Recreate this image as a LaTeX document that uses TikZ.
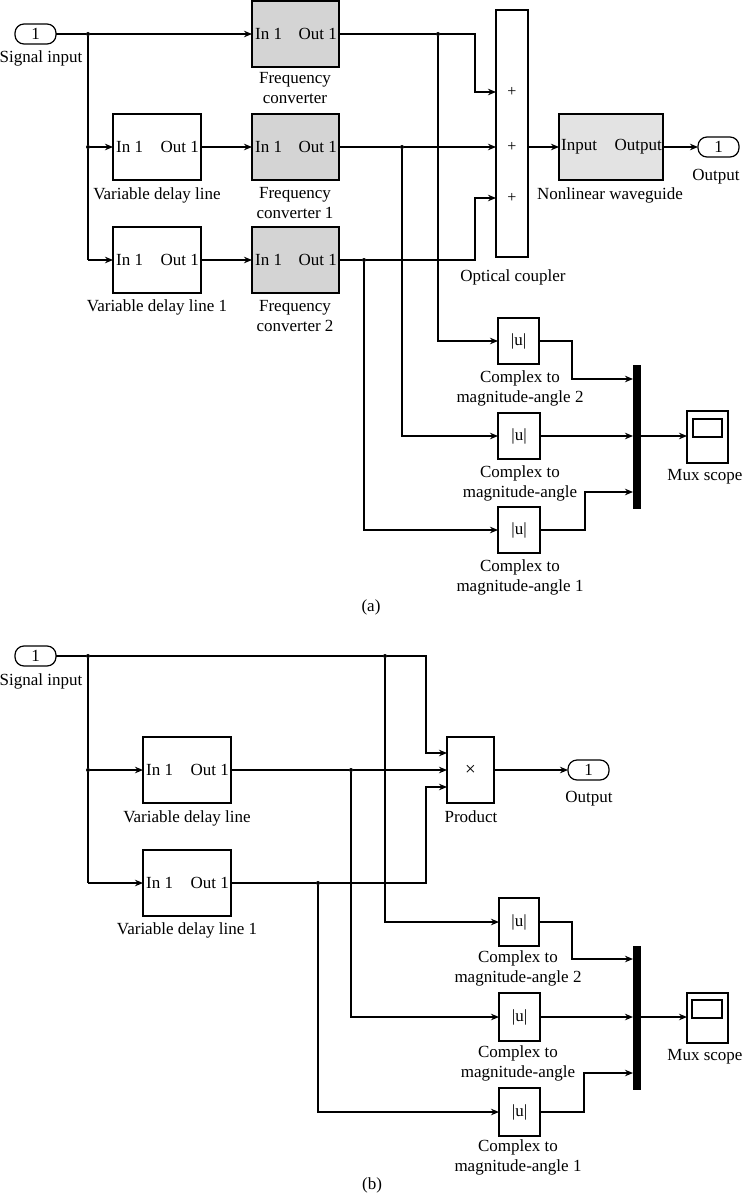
\documentclass[tikz,border=0pt]{standalone}
\usepackage{fontspec}
\setmainfont{Liberation Serif}
\usetikzlibrary{arrows.meta,calc}
\newcommand\mkblk[7]{\node[#6,minimum width={#4-#2},minimum height={#5-#3}] (#1) at ({(#2+#4)/2},{(#3+#5)/2}) {#7};}
\begin{document}
\begin{tikzpicture}[x=1pt,y=-1pt,
  font=\fontsize{17}{20}\selectfont,
  wire/.style={line width=1.2pt},
  arr/.style={wire,-{Stealth[length=8pt,width=6.5pt,inset=2.5pt]}},
  blk/.style={draw,line width=1.2pt,inner sep=0pt,outer sep=0pt},
  gblk/.style={blk,fill=black!17},
  lblk/.style={blk,fill=black!11},
  term/.style={blk,rounded corners=9pt},
  lbl/.style={align=center,inner sep=0pt},
  port/.style={inner sep=0pt},
  jdot/.style={circle,fill=black,inner sep=0pt,minimum size=4pt},
  mux/.style={draw,fill=black,inner sep=0pt,outer sep=0pt},
]
\useasboundingbox (0,0) rectangle (743,1193);

% ================= (a) =================
\mkblk{sinA}{15}{24}{56}{44}{term}{1}
\node[lbl] (sinAl) at (41,58) {Signal input};
\node[jdot] (jA1) at (88,34) {};
\node[jdot] (jA2) at (88,147) {};
\coordinate (cA3) at (88,260);

\mkblk{fc0}{252}{1}{339}{67}{gblk}{}
\mkblk{vdl0}{113}{114}{201}{180}{blk}{}
\mkblk{fc1}{252}{114}{339}{180}{gblk}{}
\mkblk{vdl1}{113}{227}{201}{293}{blk}{}
\mkblk{fc2}{252}{227}{339}{293}{gblk}{}
\foreach \b in {fc0,vdl0,fc1,vdl1,fc2}{
  \node[port,anchor=west] (\b i) at ([xshift=3pt]\b.west) {In 1};
  \node[port,anchor=east] (\b o) at ([xshift=-2pt]\b.east) {Out 1};
}
\node[lbl] (fc0l) at (295,88) {Frequency\\converter};
\node[lbl] (vdl0l) at (157,195) {Variable delay line};
\node[lbl] (fc1l) at (295,203) {Frequency\\converter 1};
\node[lbl] (vdl1l) at (157,307) {Variable delay line 1};
\node[lbl] (fc2l) at (295,316) {Frequency\\converter 2};

\mkblk{cpl}{496}{10}{528}{257}{blk}{}
\node[port,font=\fontsize{16}{16}\selectfont] (pl1) at (512,92) {+};
\node[port,font=\fontsize{16}{16}\selectfont] (pl2) at (512,147) {+};
\node[port,font=\fontsize{16}{16}\selectfont] (pl3) at (512,198) {+};
\node[lbl] (cpll) at (513,277) {Optical coupler};

\mkblk{nlw}{559}{114}{663}{180}{lblk}{}
\node[port,anchor=west] (nlwi) at ([xshift=2pt]nlw.west) {Input};
\node[port,anchor=east] (nlwo) at ([xshift=-1pt]nlw.east) {Output};
\node[lbl] (nlwl) at (610,195) {Nonlinear waveguide};
\mkblk{outA}{698}{137}{739}{157}{term}{1}
\node[lbl] (outAl) at (716,177) {Output};

\mkblk{cm2}{498}{318}{539}{364}{blk}{|u|}
\mkblk{cm0}{498}{413}{540}{459}{blk}{|u|}
\mkblk{cm1}{498}{507}{540}{553}{blk}{|u|}
\node[lbl] (cm2l) at (520,388) {Complex to\\magnitude-angle 2};
\node[lbl] (cm0l) at (520,483) {Complex to\\magnitude-angle};
\node[lbl] (cm1l) at (520,577) {Complex to\\magnitude-angle 1};
\mkblk{muxA}{633}{365}{640}{508}{mux}{}
\mkblk{scA}{687}{411}{728}{463}{blk}{}
\draw[line width=1.2pt] (693,419) rectangle (722,437);
\node[lbl] (scAl) at (705,477) {Mux scope};
\node[lbl] (capA) at (371,607) {(a)};

\node[jdot] (jA4) at (438,34) {};
\node[jdot] (jA5) at (402,147) {};
\node[jdot] (jA6) at (364,260) {};
\coordinate (bA1) at (475,34);
\coordinate (cp1) at (496,92);
\coordinate (bA3) at (475,260);
\coordinate (cp3) at (496,198);
\coordinate (bA4) at (572,341);
\coordinate (mp1) at (633,379);
\coordinate (bA5) at (585,530);
\coordinate (mp3) at (633,492);

\draw[wire] (sinA.east) -- (jA1);
\draw[arr] (jA1) -- (fc0.west);
\draw[wire] (jA1) -- (jA2) -- (cA3);
\draw[arr] (jA2) -- (vdl0.west);
\draw[arr] (cA3) -- (vdl1.west);
\draw[arr] (vdl0.east) -- (fc1.west);
\draw[arr] (vdl1.east) -- (fc2.west);
\draw[wire] (fc0.east) -- (jA4);
\draw[arr] (jA4) -- (bA1) |- (cp1);
\draw[wire] (fc1.east) -- (jA5);
\draw[arr] (jA5) -- (jA5 -| cpl.west);
\draw[wire] (fc2.east) -- (jA6);
\draw[arr] (jA6) -- (bA3) |- (cp3);
\draw[arr] (nlw.west -| cpl.east) -- (nlw.west);
\draw[arr] (nlw.east) -- (outA.west);
\draw[arr] (jA4) |- (cm2.west);
\draw[arr] (jA5) |- (cm0.west);
\draw[arr] (jA6) |- (cm1.west);
\draw[arr] (cm2.east) -- (bA4) |- (mp1);
\draw[arr] (cm0.east) -- (cm0.east -| muxA.west);
\draw[arr] (cm1.east) -- (bA5) |- (mp3);
\draw[arr] (cm0.east -| muxA.east) -- (cm0.east -| scA.west);

% ================= (b) =================
\mkblk{sinB}{15}{646}{56}{666}{term}{1}
\node[lbl] (sinBl) at (41,681) {Signal input};
\node[jdot] (jB1) at (88,656) {};
\node[jdot] (jB2) at (88,770) {};
\coordinate (cB3) at (88,883);

\mkblk{vdlb0}{143}{737}{231}{803}{blk}{}
\mkblk{vdlb1}{143}{850}{231}{916}{blk}{}
\foreach \b in {vdlb0,vdlb1}{
  \node[port,anchor=west] (\b i) at ([xshift=3pt]\b.west) {In 1};
  \node[port,anchor=east] (\b o) at ([xshift=-2pt]\b.east) {Out 1};
}
\node[lbl] (vdlb0l) at (187,818) {Variable delay line};
\node[lbl] (vdlb1l) at (187,930) {Variable delay line 1};

\mkblk{prod}{447}{737}{494}{803}{blk}{\fontsize{19}{19}\selectfont ×}
\node[lbl] (prodl) at (471,817) {Product};
\mkblk{outB}{568}{760}{609}{780}{term}{1}
\node[lbl] (outBl) at (589,799) {Output};

\mkblk{cmb2}{499}{898}{539}{946}{blk}{|u|}
\mkblk{cmb0}{499}{993}{540}{1041}{blk}{|u|}
\mkblk{cmb1}{499}{1088}{540}{1136}{blk}{|u|}
\node[lbl] (cmb2l) at (518,968) {Complex to\\magnitude-angle 2};
\node[lbl] (cmb0l) at (518,1063) {Complex to\\magnitude-angle};
\node[lbl] (cmb1l) at (518,1157) {Complex to\\magnitude-angle 1};
\mkblk{muxB}{633}{946}{640}{1089}{mux}{}
\mkblk{scB}{687}{993}{728}{1043}{blk}{}
\draw[line width=1.2pt] (692,1000) rectangle (722,1018);
\node[lbl] (scBl) at (705,1057) {Mux scope};
\node[lbl] (capB) at (372,1185) {(b)};

\node[jdot] (jB4) at (385,656) {};
\node[jdot] (jB5) at (351,770) {};
\node[jdot] (jB6) at (318,883) {};
\coordinate (bB1) at (426,656);
\coordinate (pp1) at (447,753);
\coordinate (bB3) at (426,883);
\coordinate (pp3) at (447,787);
\coordinate (bB4) at (572,922);
\coordinate (mq1) at (633,959);
\coordinate (bB5) at (584,1112);
\coordinate (mq3) at (633,1073);

\draw[wire] (sinB.east) -- (jB1);
\draw[wire] (jB1) -- (jB4);
\draw[arr] (jB4) -- (bB1) |- (pp1);
\draw[wire] (jB1) -- (jB2) -- (cB3);
\draw[arr] (jB2) -- (vdlb0.west);
\draw[arr] (cB3) -- (vdlb1.west);
\draw[wire] (vdlb0.east) -- (jB5);
\draw[arr] (jB5) -- (jB5 -| prod.west);
\draw[wire] (vdlb1.east) -- (jB6);
\draw[arr] (jB6) -- (bB3) |- (pp3);
\draw[arr] (prod.east) -- (outB.west);
\draw[arr] (jB4) |- (cmb2.west);
\draw[arr] (jB5) |- (cmb0.west);
\draw[arr] (jB6) |- (cmb1.west);
\draw[arr] (cmb2.east) -- (bB4) |- (mq1);
\draw[arr] (cmb0.east) -- (cmb0.east -| muxB.west);
\draw[arr] (cmb1.east) -- (bB5) |- (mq3);
\draw[arr] (cmb0.east -| muxB.east) -- (cmb0.east -| scB.west);
\end{tikzpicture}
\end{document}
